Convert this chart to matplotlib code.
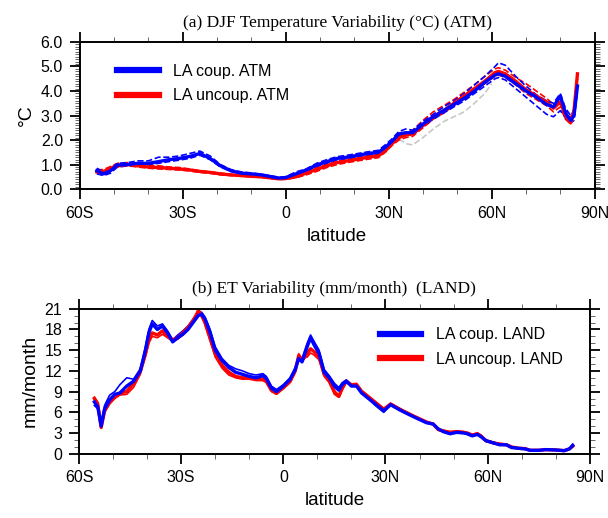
import numpy as np
import matplotlib
matplotlib.use("Agg")
import matplotlib.pyplot as plt
from matplotlib.ticker import MultipleLocator, FixedLocator, FormatStrFormatter

plt.rcParams['font.family'] = ['Liberation Sans', 'DejaVu Sans']

# ---------------- panel (a): DJF temperature variability ----------------
lat_a = [-55, -53, -51, -49, -46, -43, -40, -37, -34, -31, -28, -25, -22, -19, -16, -13, -10, -7, -4, -2,
         0, 3, 6, 9, 12, 15, 18, 21, 24, 27, 29, 31, 33, 35, 37, 40, 43, 46, 49, 52,
         55, 58, 61, 62, 64, 67, 70, 73, 76, 78, 80, 81.5, 83, 84, 85]
coup_atm = [0.75, 0.62, 0.75, 0.98, 1.0, 1.05, 1.05, 1.12, 1.2, 1.25, 1.33, 1.45, 1.25, 0.95, 0.75, 0.65, 0.62, 0.58, 0.5, 0.45,
            0.47, 0.62, 0.78, 0.98, 1.12, 1.25, 1.3, 1.38, 1.45, 1.5, 1.7, 1.95, 2.25, 2.3, 2.3, 2.65, 2.95, 3.2, 3.45, 3.7,
            4.0, 4.35, 4.65, 4.7, 4.6, 4.3, 4.0, 3.75, 3.45, 3.35, 3.8, 3.1, 2.8, 3.0, 4.2]
coup_atm_hi = [0.85, 0.7, 0.85, 1.05, 1.08, 1.15, 1.15, 1.3, 1.3, 1.35, 1.45, 1.55, 1.35, 1.0, 0.8, 0.7, 0.66, 0.6, 0.53, 0.48,
               0.5, 0.7, 0.82, 1.05, 1.2, 1.32, 1.38, 1.45, 1.52, 1.58, 1.8, 2.05, 2.35, 2.45, 2.4, 2.75, 3.05, 3.35, 3.6, 3.9,
               4.25, 4.6, 5.0, 5.15, 5.05, 4.6, 4.2, 3.85, 3.6, 3.5, 3.9, 3.3, 3.0, 3.2, 4.3]
coup_atm_lo = [0.62, 0.55, 0.65, 0.9, 0.95, 0.98, 1.0, 1.05, 1.12, 1.18, 1.25, 1.38, 1.2, 0.9, 0.72, 0.62, 0.58, 0.55, 0.47, 0.43,
               0.44, 0.58, 0.72, 0.92, 1.05, 1.2, 1.25, 1.32, 1.4, 1.45, 1.62, 1.88, 2.15, 2.2, 2.22, 2.55, 2.85, 3.1, 3.35, 3.6,
               3.9, 4.2, 4.5, 4.55, 4.45, 4.1, 3.75, 3.4, 3.05, 2.95, 3.2, 2.9, 2.7, 2.8, 4.0]
uncoup_atm = [0.7, 0.72, 0.85, 0.95, 1.0, 0.95, 0.9, 0.88, 0.85, 0.82, 0.78, 0.72, 0.68, 0.62, 0.58, 0.55, 0.52, 0.5, 0.45, 0.42,
              0.43, 0.5, 0.65, 0.8, 0.95, 1.08, 1.15, 1.22, 1.3, 1.35, 1.55, 1.85, 2.1, 2.2, 2.25, 2.6, 2.95, 3.2, 3.5, 3.8,
              4.1, 4.4, 4.75, 4.8, 4.7, 4.4, 4.05, 3.8, 3.55, 3.3, 3.55, 3.0, 2.7, 3.2, 4.7]
uncoup_atm_hi = [0.78, 0.8, 0.92, 1.05, 1.08, 1.02, 0.98, 0.95, 0.9, 0.88, 0.82, 0.75, 0.7, 0.65, 0.6, 0.57, 0.54, 0.52, 0.47, 0.44,
                 0.46, 0.55, 0.72, 0.88, 1.02, 1.15, 1.22, 1.28, 1.36, 1.42, 1.62, 1.95, 2.2, 2.3, 2.4, 2.8, 3.15, 3.4, 3.65, 3.95,
                 4.25, 4.6, 4.9, 4.95, 4.85, 4.55, 4.3, 4.0, 3.7, 3.45, 3.65, 3.2, 2.9, 3.3, 4.7]
uncoup_atm_lo = [0.65, 0.62, 0.78, 0.9, 0.95, 0.9, 0.85, 0.82, 0.8, 0.78, 0.74, 0.68, 0.64, 0.58, 0.55, 0.52, 0.5, 0.47, 0.42, 0.39,
                 0.4, 0.46, 0.58, 0.72, 0.88, 1.0, 1.08, 1.15, 1.22, 1.28, 1.5, 1.78, 2.0, 2.1, 2.15, 2.5, 2.85, 3.1, 3.4, 3.7,
                 4.0, 4.3, 4.6, 4.65, 4.55, 4.25, 3.9, 3.65, 3.4, 3.15, 3.35, 2.85, 2.65, 3.0, 4.5]
lat_gray = [33, 35, 37, 40, 43, 46, 49, 52, 55, 58, 60]
gray_atm = [2.05, 1.85, 1.8, 2.1, 2.45, 2.75, 2.95, 3.15, 3.5, 3.9, 4.3]

# ---------------- panel (b): ET variability ----------------
lat_b = [-55.5, -54.5, -53.5, -52.5, -51, -49.5, -48, -46, -44, -42, -40.5, -39.5, -38.5, -37, -35.5, -34, -32.5, -31,
         -29.5, -28, -26.5, -25, -24, -23, -21.5, -20, -18, -16, -14, -12, -10, -8, -6, -5, -3.5, -2,
         0, 2, 3.5, 4.5, 5.5, 7, 8, 9, 10.5, 12, 13.5, 15, 16.3, 17.3, 18.5, 20, 21.5, 23, 25, 27, 29.5,
         31.5, 34, 36, 38.5, 42, 44, 45.5, 47, 49, 51, 53, 54, 55.5, 57, 58, 59.5, 61.5, 63.5, 65.5, 67,
         69, 71, 72.5, 75, 77, 80, 82.5, 84, 85]
coup_land = [7.5, 6.8, 4.0, 6.5, 7.8, 8.6, 8.8, 9.8, 10.5, 12.0, 15.0, 17.5, 18.8, 18.0, 18.5, 17.5, 16.2, 16.8,
             17.3, 18.0, 19.0, 20.0, 20.2, 19.5, 17.5, 15.0, 13.5, 12.5, 11.8, 11.5, 11.2, 11.0, 11.3, 10.9, 9.5, 9.0,
             9.8, 10.8, 12.2, 13.8, 13.3, 15.5, 16.8, 15.8, 14.5, 11.8, 11.0, 9.8, 9.2, 10.0, 10.5, 9.8, 9.8, 8.8, 8.0, 7.2, 6.2,
             7.1, 6.4, 5.9, 5.3, 4.5, 4.3, 3.6, 3.2, 2.9, 3.1, 3.0, 2.9, 2.6, 2.8, 2.5, 1.9, 1.6, 1.3, 1.3, 0.9,
             0.8, 0.7, 0.5, 0.5, 0.6, 0.55, 0.45, 0.7, 1.2]
coup_land_2 = [7.0, 6.5, 4.5, 7.0, 8.5, 9.0, 10.0, 11.0, 10.8, 12.3, 15.5, 18.0, 19.3, 18.5, 18.8, 17.8, 16.5, 17.2,
               17.8, 18.5, 19.5, 20.3, 20.5, 19.8, 18.0, 15.5, 13.8, 12.8, 12.3, 12.0, 11.6, 11.4, 11.6, 11.2, 9.8, 9.3,
               10.0, 11.0, 12.5, 13.5, 13.8, 16.0, 17.2, 16.3, 15.0, 12.2, 11.3, 10.2, 9.6, 10.3, 10.7, 10.0, 9.9, 8.9, 8.0, 7.0, 6.0,
               7.3, 6.6, 6.0, 5.3, 4.5, 4.4, 3.7, 3.2, 2.8, 3.2, 3.1, 2.8, 2.5, 2.8, 2.4, 1.8, 1.5, 1.3, 1.4, 1.0,
               0.75, 0.65, 0.5, 0.45, 0.55, 0.5, 0.4, 0.8, 1.4]
uncoup_land = [8.0, 7.2, 3.8, 6.2, 7.5, 8.2, 8.8, 9.0, 10.2, 12.0, 14.5, 16.5, 17.5, 17.2, 17.8, 17.0, 16.5, 16.8,
               17.5, 18.3, 19.3, 20.6, 20.0, 19.0, 16.8, 14.5, 12.8, 11.8, 11.2, 11.0, 11.0, 10.8, 10.8, 10.5, 9.2, 8.8,
               9.6, 10.5, 12.0, 14.2, 13.5, 14.5, 15.2, 14.8, 14.0, 11.5, 10.5, 9.0, 8.3, 9.5, 10.5, 10.0, 10.0, 9.0, 8.2, 7.4, 6.4,
               7.2, 6.5, 6.0, 5.4, 4.6, 4.3, 3.5, 3.3, 3.1, 3.2, 3.1, 3.0, 2.7, 2.9, 2.6, 1.9, 1.6, 1.4, 1.3, 1.0,
               0.8, 0.75, 0.5, 0.5, 0.6, 0.55, 0.45, 0.7, 1.1]
uncoup_land_2 = [8.2, 7.5, 4.2, 6.0, 7.2, 8.0, 8.5, 8.6, 9.6, 11.5, 14.0, 16.0, 17.0, 16.8, 17.3, 16.8, 16.3, 16.6,
                 17.2, 18.0, 19.0, 21.0, 20.3, 18.6, 16.3, 14.0, 12.4, 11.4, 11.0, 10.8, 10.8, 10.6, 10.6, 10.3, 9.0, 8.6,
                 9.4, 10.3, 11.8, 14.5, 13.8, 14.0, 14.6, 14.3, 13.6, 11.2, 10.3, 8.6, 8.2, 9.2, 10.4, 10.1, 10.2, 9.2, 8.4, 7.6, 6.6,
                 7.3, 6.6, 6.1, 5.5, 4.7, 4.4, 3.4, 3.4, 3.2, 3.3, 3.2, 3.1, 2.8, 3.0, 2.7, 2.0, 1.7, 1.5, 1.3, 1.0,
                 0.85, 0.8, 0.55, 0.5, 0.6, 0.55, 0.45, 0.7, 1.0]

xticks = [-60, -30, 0, 30, 60, 90]
xticklabels = ['60S', '30S', '0', '30N', '60N', '90N']

fig = plt.figure(figsize=(6.08, 5.18), dpi=100)
ax1 = fig.add_axes([0.131, 0.635, 0.847, 0.284])
ax2 = fig.add_axes([0.130, 0.124, 0.840, 0.280])


def style(ax):
    ax.set_xlim(-60, 90)
    ax.xaxis.set_major_locator(FixedLocator(xticks))
    ax.set_xticklabels(xticklabels)
    ax.xaxis.set_minor_locator(MultipleLocator(10))
    ax.tick_params(which='both', direction='out', top=True, right=True, labelsize=11.5)
    ax.tick_params(which='major', length=7, width=1.3, pad=5)
    ax.tick_params(which='minor', length=3.5, width=0.7, color='#666666')
    for s in ax.spines.values():
        s.set_linewidth(1.4)
    ax.set_xlabel('latitude', fontsize=13.5, labelpad=5)


# panel (a)
ax1.plot(lat_gray, gray_atm, color='#c8c8c8', ls='--', lw=1.2)
ax1.plot(lat_a, uncoup_atm_hi, color='red', ls='--', lw=1.2)
ax1.plot(lat_a, uncoup_atm_lo, color='red', ls='--', lw=1.2)
ax1.plot(lat_a, coup_atm_hi, color='blue', ls='--', lw=1.2)
ax1.plot(lat_a, coup_atm_lo, color='blue', ls='--', lw=1.2)
l2, = ax1.plot(lat_a, uncoup_atm, color='red', lw=2.4, label='LA uncoup. ATM')
l1, = ax1.plot(lat_a, coup_atm, color='blue', lw=2.4, label='LA coup. ATM')
ax1.set_ylim(0, 6)
ax1.yaxis.set_major_locator(MultipleLocator(1))
ax1.yaxis.set_minor_locator(MultipleLocator(0.1))
ax1.yaxis.set_major_formatter(FormatStrFormatter('%.1f'))
style(ax1)
ax1.set_ylabel('°C', fontsize=14)
ax1.set_title('(a) DJF Temperature Variability (°C) (ATM)', fontsize=12.5,
              family='Liberation Serif', pad=11)
ax1.legend(handles=[l1, l2], loc='upper left', frameon=False, fontsize=11.5,
           handlelength=2.6, handletextpad=0.9, labelspacing=0.6,
           bbox_to_anchor=(0.045, 0.95))
for h in ax1.get_legend().get_lines():
    h.set_linewidth(4.5)

# panel (b)
ax2.plot(lat_b, uncoup_land_2, color='red', lw=1.2)
ax2.plot(lat_b, coup_land_2, color='blue', lw=1.2)
m2, = ax2.plot(lat_b, uncoup_land, color='red', lw=2.4, label='LA uncoup. LAND')
m1, = ax2.plot(lat_b, coup_land, color='blue', lw=2.4, label='LA coup. LAND')
ax2.set_ylim(0, 21)
ax2.yaxis.set_major_locator(MultipleLocator(3))
ax2.yaxis.set_minor_locator(MultipleLocator(1))
style(ax2)
ax2.set_ylabel('mm/month', fontsize=14)
ax2.set_title('(b) ET Variability (mm/month)  (LAND)', fontsize=12.5,
              family='Liberation Serif', pad=11)
ax2.legend(handles=[m1, m2], loc='upper right', frameon=False, fontsize=11.5,
           handlelength=2.6, handletextpad=0.9, labelspacing=0.6,
           bbox_to_anchor=(0.975, 0.97))
for h in ax2.get_legend().get_lines():
    h.set_linewidth(4.5)

fig.savefig('out.png', dpi=100)
